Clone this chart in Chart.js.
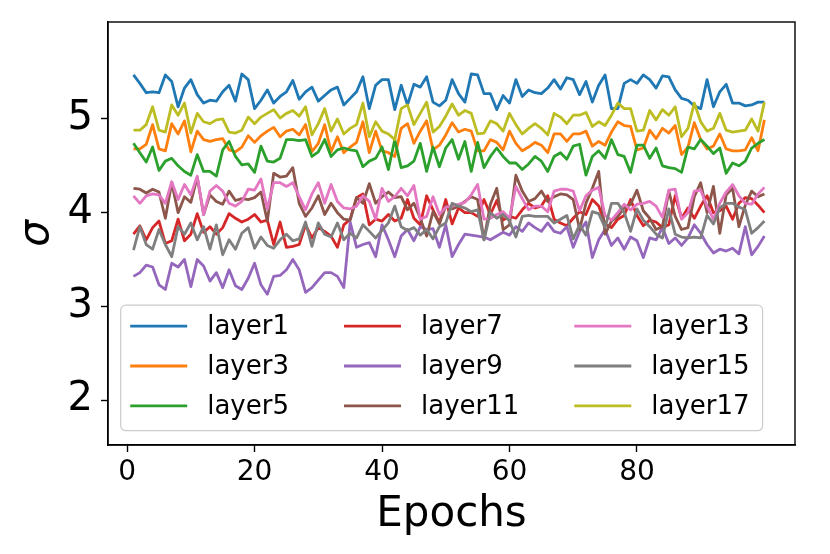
<!DOCTYPE html>
<html>
<head>
<meta charset="utf-8">
<script src="https://cdn.jsdelivr.net/npm/chart.js@4.4.0/dist/chart.umd.min.js"></script>
<style>
  html, body { margin: 0; padding: 0; background: #fff; }
  canvas { display: block; }
</style>
</head>
<body>
<canvas id="sigmaChart" width="830" height="554"></canvas>
<script>
// epochs 1..100
const epochs = [];
for (let e = 1; e <= 100; e++) epochs.push(e);

const xTicks = [0, 20, 40, 60, 80];
const yTicks = [2, 3, 4, 5];

const layer1 = [5.47,5.38,5.28,5.29,5.28,5.47,5.40,5.13,5.33,5.42,
  5.26,5.17,5.20,5.19,5.29,5.36,5.19,5.48,5.42,5.11,
  5.20,5.31,5.17,5.24,5.29,5.41,5.21,5.29,5.34,5.19,
  5.25,5.31,5.34,5.15,5.22,5.29,5.45,5.11,5.36,5.42,
  5.42,5.10,5.36,5.15,5.37,5.34,5.45,5.18,5.14,5.20,
  5.42,5.27,5.18,5.48,5.47,5.27,5.27,5.10,5.25,5.17,
  5.42,5.24,5.31,5.28,5.27,5.33,5.42,5.32,5.44,5.42,
  5.26,5.40,5.18,5.36,5.47,5.11,5.11,5.38,5.42,5.38,
  5.47,5.42,5.33,5.46,5.45,5.31,5.22,5.20,5.14,5.11,
  5.42,5.13,5.29,5.37,5.17,5.17,5.14,5.15,5.18,5.18];

const layer3 = [4.68,4.68,4.73,4.94,4.68,4.66,4.95,4.84,4.98,4.65,
  4.87,4.78,4.76,4.78,4.79,4.67,4.65,4.70,4.82,4.75,
  4.82,4.87,4.91,4.81,4.87,4.89,4.83,4.94,4.65,4.74,
  4.94,4.65,4.81,4.64,4.70,4.75,4.97,4.64,4.87,4.66,
  4.64,4.60,4.90,4.95,4.74,4.87,4.98,4.67,4.72,4.83,
  4.96,4.86,4.89,4.87,4.66,4.66,4.78,4.75,4.67,4.87,
  4.74,4.66,4.70,4.75,4.72,4.64,4.84,4.84,4.76,4.84,
  4.84,4.87,4.71,4.76,4.72,4.86,4.97,4.93,4.92,4.67,
  4.69,4.88,4.79,4.90,4.85,4.93,4.62,4.70,4.96,4.78,
  4.68,4.71,4.84,4.68,4.66,4.66,4.67,4.80,4.66,4.99];

const layer5 = [4.74,4.64,4.54,4.70,4.45,4.55,4.58,4.50,4.44,4.40,
  4.62,4.44,4.44,4.39,4.67,4.76,4.60,4.51,4.52,4.43,
  4.71,4.55,4.54,4.58,4.78,4.78,4.77,4.78,4.60,4.65,
  4.78,4.60,4.67,4.69,4.67,4.66,4.49,4.55,4.58,4.70,
  4.46,4.78,4.48,4.50,4.55,4.74,4.44,4.70,4.49,4.69,
  4.78,4.57,4.76,4.44,4.75,4.48,4.60,4.69,4.60,4.53,
  4.53,4.46,4.52,4.60,4.55,4.44,4.60,4.64,4.57,4.71,
  4.73,4.40,4.60,4.66,4.58,4.78,4.62,4.60,4.43,4.72,
  4.72,4.58,4.69,4.50,4.48,4.47,4.43,4.70,4.68,4.78,
  4.71,4.63,4.69,4.42,4.53,4.50,4.55,4.69,4.74,4.78];

const layer7 = [3.77,3.86,3.71,3.84,3.91,3.67,3.70,3.93,3.70,3.77,
  3.99,3.79,3.85,3.77,3.84,3.99,3.94,3.90,3.93,3.98,
  3.90,3.92,3.66,3.90,3.63,3.64,3.66,3.87,3.73,3.84,
  3.80,3.75,3.63,3.87,3.93,4.16,4.20,3.87,3.93,3.91,
  3.98,3.91,3.94,4.14,3.94,3.87,4.18,4.03,3.89,4.14,
  3.88,4.05,4.00,4.00,3.96,4.14,3.98,4.13,3.92,3.96,
  3.94,4.03,4.10,4.05,4.07,4.18,3.93,3.89,3.86,3.94,
  4.01,3.98,4.14,4.07,3.88,3.84,3.93,3.97,4.14,3.97,
  3.86,3.92,3.90,3.84,3.87,4.18,3.94,4.05,3.94,4.07,
  4.18,4.00,4.02,4.07,3.93,4.10,4.16,4.15,4.08,4.00];

const layer9 = [3.32,3.36,3.44,3.42,3.23,3.18,3.46,3.42,3.50,3.21,
  3.50,3.43,3.27,3.36,3.20,3.39,3.22,3.18,3.30,3.46,
  3.23,3.13,3.32,3.33,3.39,3.50,3.39,3.15,3.20,3.28,
  3.36,3.36,3.32,3.20,3.90,3.63,3.66,3.68,3.53,3.87,
  3.71,3.53,3.75,3.82,3.70,3.85,3.82,3.83,3.63,3.87,
  3.53,3.66,3.77,3.76,3.75,3.74,3.71,3.75,3.79,3.76,
  3.85,3.80,3.89,3.84,3.80,3.89,3.80,3.78,3.85,3.63,
  3.80,3.90,3.52,3.71,3.82,3.65,3.73,3.61,3.74,3.70,
  3.52,3.73,3.71,3.84,3.67,3.73,3.65,3.73,3.87,3.78,
  3.66,3.57,3.61,3.59,3.62,3.56,3.85,3.55,3.64,3.75];

const layer11 = [4.26,4.25,4.21,4.25,4.22,3.94,4.32,4.00,4.17,4.11,
  4.38,3.98,4.19,4.12,4.09,4.23,4.13,4.15,4.14,4.16,
  4.22,3.91,4.42,4.38,4.39,4.48,4.10,3.96,4.05,4.18,
  3.98,4.10,4.00,3.93,3.92,4.16,4.10,4.31,4.10,4.17,
  4.22,4.16,4.17,4.03,4.10,3.94,3.75,4.01,3.88,4.07,
  4.04,4.07,4.12,4.17,4.14,3.71,4.09,4.26,3.82,3.87,
  4.40,4.23,4.12,4.15,4.23,4.12,4.17,4.20,4.19,4.14,
  3.82,4.10,4.26,4.44,3.77,3.91,3.96,4.05,4.09,4.24,
  4.02,3.94,3.82,3.85,4.23,3.96,3.82,3.84,4.17,4.32,
  4.00,4.28,3.78,4.19,4.26,3.85,4.08,4.23,4.17,4.20];

const layer13 = [4.18,4.10,4.18,4.20,4.19,4.10,4.33,4.14,4.30,4.19,
  4.39,3.98,4.23,4.29,4.23,4.10,4.07,4.12,4.25,4.24,
  4.36,4.04,4.32,4.32,4.28,4.32,4.17,4.03,4.20,4.32,
  4.10,4.30,4.12,4.05,4.04,4.07,4.18,4.12,3.93,4.26,
  4.12,4.17,4.26,4.18,4.29,3.93,3.96,4.17,3.98,4.06,
  4.07,4.09,4.11,4.19,4.30,3.93,3.94,3.98,4.01,3.94,
  4.28,4.15,4.03,4.07,4.07,4.01,4.23,4.25,4.25,4.23,
  4.02,4.18,4.24,4.27,3.97,3.92,4.00,4.09,4.03,4.09,
  4.10,4.12,4.07,3.95,4.24,4.25,3.93,4.00,4.23,4.24,
  4.07,3.93,4.10,4.22,4.30,4.18,4.10,4.09,4.20,4.27];

const layer15 = [3.60,3.85,3.66,3.61,3.82,3.66,3.53,3.85,3.77,3.89,
  3.71,3.85,3.61,3.87,3.55,3.71,3.61,3.78,3.84,3.62,
  3.74,3.65,3.62,3.71,3.77,3.70,3.72,3.90,3.64,3.89,
  3.77,3.74,3.89,3.71,3.78,3.73,3.87,3.80,3.73,3.81,
  3.89,4.07,3.85,3.81,3.84,3.76,3.82,3.72,3.85,3.89,
  4.10,4.07,4.05,4.01,4.03,3.71,4.00,3.94,3.98,3.91,
  3.74,3.96,3.97,3.96,3.96,3.96,3.89,3.93,3.97,3.72,
  3.87,3.76,4.01,3.99,3.84,4.10,4.10,4.00,3.80,4.04,
  3.92,3.85,3.77,3.73,4.04,3.77,3.74,3.73,3.74,3.73,
  3.97,3.88,4.05,4.10,4.10,4.06,4.03,3.78,3.84,3.91];

const layer17 = [4.88,4.88,4.94,5.13,4.88,4.86,5.15,5.04,5.17,4.85,
  5.06,4.97,4.95,4.99,5.00,4.86,4.85,4.88,5.02,4.95,
  5.02,5.06,5.10,5.01,5.06,5.09,5.03,5.13,4.83,4.95,
  5.11,4.87,5.00,4.84,4.90,4.94,5.17,4.81,4.97,4.87,
  4.84,4.78,5.11,5.15,4.94,5.06,5.18,4.86,4.92,5.03,
  5.16,5.04,5.09,5.06,4.84,4.85,4.98,4.95,4.87,5.06,
  4.94,4.84,4.90,4.95,4.90,4.83,5.06,5.02,4.95,5.04,
  5.04,5.07,4.92,4.97,4.93,5.04,5.17,5.11,5.11,4.87,
  4.88,5.09,4.99,5.10,5.04,5.13,4.81,4.90,5.17,4.97,
  4.87,4.90,5.06,4.88,4.86,4.87,4.88,5.00,4.87,5.18];

const seriesNames = ['layer1', 'layer3', 'layer5', 'layer7', 'layer9', 'layer11', 'layer13', 'layer15', 'layer17'];
const seriesValues = [layer1, layer3, layer5, layer7, layer9, layer11, layer13, layer15, layer17];
const colors = ['#1f77b4', '#ff7f0e', '#2ca02c', '#d62728', '#9467bd', '#8c564b', '#e377c2', '#7f7f7f', '#bcbd22'];

const FONT = "'DejaVu Sans', 'Liberation Sans', sans-serif";

// top and right sides of the axes frame
const framePlugin = {
    id: 'frame',
    afterDatasetsDraw(chart) {
        const a = chart.chartArea;
        const ctx = chart.ctx;
        ctx.save();
        ctx.strokeStyle = '#000';
        ctx.lineWidth = 1.4;
        ctx.strokeRect(a.left, a.top, a.right - a.left, a.bottom - a.top);
        ctx.restore();
    }
};

// matplotlib style legend, lower left, 3 columns
const legendPlugin = {
    id: 'boxLegend',
    afterDraw(chart) {
        const a = chart.chartArea;
        const ctx = chart.ctx;
        const fs = 26;
        const rows = 3;
        const rowH = 39.8;
        const handleLen = 57;
        const textPad = 20;
        const colGap = 55;
        const sets = chart.data.datasets;
        ctx.save();
        ctx.font = fs + 'px ' + FONT;
        const cols = Math.ceil(sets.length / rows);
        const colW = [];
        for (let c = 0; c < cols; c++) {
            let w = 0;
            for (let r = 0; r < rows; r++) {
                const d = sets[c * rows + r];
                if (d) w = Math.max(w, ctx.measureText(d.label).width);
            }
            colW.push(w);
        }
        const pad = 9.5;
        let boxW = pad + 13;
        colW.forEach((w, c) => { boxW += handleLen + textPad + w + (c < cols - 1 ? colGap : 0); });
        const boxH = 125.5;
        const bx = a.left + 12.7;
        const by = a.bottom - 14.3 - boxH;

        ctx.beginPath();
        ctx.roundRect(bx, by, boxW, boxH, 5);
        ctx.fillStyle = 'rgba(255,255,255,0.8)';
        ctx.fill();
        ctx.strokeStyle = '#cccccc';
        ctx.lineWidth = 1.2;
        ctx.stroke();

        let x = bx + pad;
        for (let c = 0; c < cols; c++) {
            for (let r = 0; r < rows; r++) {
                const d = sets[c * rows + r];
                if (!d) continue;
                const y = by + 21 + rowH * r;
                ctx.strokeStyle = d.borderColor;
                ctx.lineWidth = 2.8;
                ctx.beginPath();
                ctx.moveTo(x, y);
                ctx.lineTo(x + handleLen, y);
                ctx.stroke();
                ctx.fillStyle = '#000';
                ctx.textBaseline = 'middle';
                ctx.fillText(d.label, x + handleLen + textPad, y + 1);
            }
            x += handleLen + textPad + colW[c] + colGap;
        }
        ctx.restore();
    }
};

const datasets = seriesNames.map((name, k) => ({
    label: name,
    data: seriesValues[k].map((v, i) => ({ x: epochs[i], y: v })),
    borderColor: colors[k],
    backgroundColor: colors[k],
    borderWidth: 2.8,
    pointRadius: 0,
    tension: 0,
    borderJoinStyle: 'round',
    fill: false,
    order: seriesNames.length - k
}));

const ctx = document.getElementById('sigmaChart').getContext('2d');

new Chart(ctx, {
    type: 'line',
    data: { datasets: datasets },
    options: {
        responsive: false,
        animation: false,
        devicePixelRatio: 1,
        layout: { padding: { top: 22, right: 35, left: 0, bottom: 0 } },
        plugins: {
            legend: { display: false },
            tooltip: { enabled: false }
        },
        scales: {
            x: {
                type: 'linear',
                min: -3,
                max: 104.8,
                afterBuildTicks: scale => { scale.ticks = xTicks.map(v => ({ value: v })); },
                afterFit: scale => { scale.height = 109; scale.paddingLeft = 0; scale.paddingRight = 0; },
                grid: { drawOnChartArea: false, drawTicks: true, tickLength: 7, tickColor: '#000', tickWidth: 1.4 },
                border: { display: true, color: '#000', width: 1.4 },
                ticks: { color: '#000', padding: 4, maxRotation: 0, font: { family: FONT, size: 28 } },
                title: {
                    display: true,
                    text: 'Epochs',
                    color: '#000',
                    font: { family: FONT, size: 42 },
                    padding: { top: 0, bottom: 14 }
                }
            },
            y: {
                min: 1.52,
                max: 6.035,
                afterBuildTicks: scale => { scale.ticks = yTicks.map(v => ({ value: v })); },
                afterFit: scale => { scale.width = 108; scale.paddingTop = 0; scale.paddingBottom = 0; },
                grid: { drawOnChartArea: false, drawTicks: true, tickLength: 7, tickColor: '#000', tickWidth: 1.4 },
                border: { display: true, color: '#000', width: 1.4 },
                ticks: { color: '#000', padding: 8, font: { family: FONT, size: 40 } },
                title: {
                    display: true,
                    text: 'σ',
                    color: '#000',
                    font: { family: FONT, size: 42, style: 'italic' },
                    padding: { top: 12, bottom: 0 }
                }
            }
        }
    },
    plugins: [framePlugin, legendPlugin]
});
</script>
</body>
</html>
